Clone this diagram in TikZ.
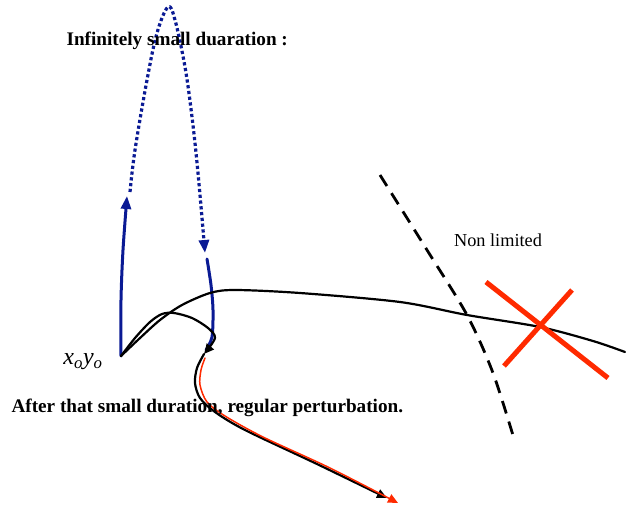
\documentclass[tikz,border=0pt]{standalone}
\usepackage{fontspec}
\setmainfont{Liberation Serif}
\usetikzlibrary{arrows.meta}
\definecolor{pathblue}{HTML}{0A1A94}
\definecolor{crossred}{HTML}{FF2A00}
\tikzset{
  blue path/.style={pathblue, line width=3pt, line cap=round},
  blue jump/.style={pathblue, line width=3.2pt, line cap=butt, dash pattern=on 3.2pt off 2.6pt},
  black path/.style={black, line width=2.2pt, line join=round},
  red path/.style={crossred, line width=1.5pt},
  bound line/.style={black, line width=2.8pt, line cap=butt, dash pattern=on 13pt off 8.5pt},
  cross bar/.style={crossred, line width=5pt, line cap=butt},
  tip/.style={-{Triangle[length=13pt, width=10pt]}},
  small tip/.style={-{Triangle[length=10pt, width=9pt]}},
  label bold/.style={font=\fontsize{19.2}{21}\selectfont\bfseries},
  label plain/.style={font=\fontsize{18.3}{20}\selectfont},
}
\begin{document}
\begin{tikzpicture}[x=1pt, y=-1pt, line cap=round, line join=round]
  \useasboundingbox (0,0) rectangle (626,508);

  \coordinate (X0) at (121,356);
  \coordinate (up) at (127,196);
  \coordinate (down) at (205,253);
  \coordinate (hook) at (204,354);
  \coordinate (endB) at (387,498);
  \coordinate (endR) at (398,503);
  \coordinate (far) at (625,352);

  % jump during the small duration
  \draw[blue path, tip] plot[smooth] coordinates {(X0) (121,300) (123,250) (up)};
  \draw[blue jump, tip] plot[smooth, tension=0.6] coordinates
    {(130,192) (135,150) (147,80) (157,33) (168,7) (175,20) (185,67) (192,117) (198,173) (down)};
  \draw[blue path] plot[smooth] coordinates {(207,259) (211,285) (213,310) (212,337) (206,350)};

  % trajectories
  \draw[black path, small tip] plot[smooth] coordinates
    {(X0) (135,338) (150,322) (162,314) (174,313) (192,318) (208,328) (215,338) (hook)};
  \draw[black path] plot[smooth] coordinates
    {(X0) (140,338) (160,320) (182,305) (210,293) (235,290) (300,293) (400,302) (467,315) (540,327) (593,341) (far)};
  \draw[black path, small tip] plot[smooth] coordinates
    {(hook) (197,368) (195,383) (200,398) (215,412) (245,430) (317,464) (endB)};
  \draw[red path, small tip] plot[smooth] coordinates
    {(205,358) (201,370) (200,385) (207,402) (225,416) (263,437) (330,468) (endR)};

  % limit
  \draw[bound line] plot[smooth] coordinates {(380,175) (427,250) (467,315) (493,373) (515,442)};
  \draw[cross bar] (486,282) -- (608,378);
  \draw[cross bar] (572,290) -- (504,366);

  % labels
  \node[label bold, anchor=west] (jumptext) at (63,41) {Infinitely small duaration :};
  \node[label plain] (limtext) at (498,240) {Non limited};
  \node[label bold, anchor=west] (aftertext) at (8,408) {After that small duration, regular perturbation.};
  \node[font=\fontsize{24}{26}\selectfont\itshape] (start) at (83,362) {x\textsubscript{o}y\textsubscript{o}};
\end{tikzpicture}
\end{document}
